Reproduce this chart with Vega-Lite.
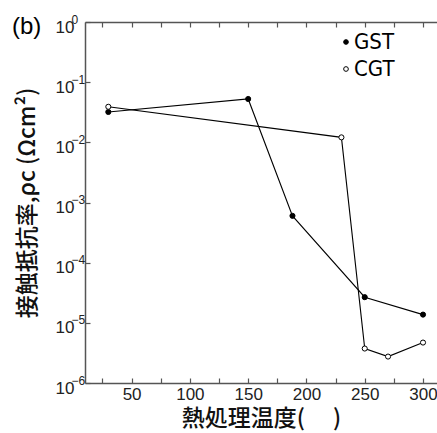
{
  "$schema": "https://vega.github.io/schema/vega-lite/v6.json",
  "autosize": "none",
  "width": 352,
  "height": 361,
  "padding": {"left": 85, "top": 22, "right": 0, "bottom": 50},
  "background": "white",
  "title": {"text": "(b)", "fontSize": 24, "font": "Liberation Sans", "fontWeight": "normal", "anchor": "start", "frame": "group", "dx": -73, "dy": 50, "offset": 0, "baseline": "bottom", "color": "black"},
  "resolve": {"axis": {"y": "independent"}},
  "config": {
    "view": {"stroke": null},
    "axis": {"domainColor": "#555", "tickColor": "#555", "domainWidth": 1.5, "tickWidth": 1.2, "grid": false, "labelFont": "Liberation Sans", "labelFontSize": 17, "labelColor": "#222", "titleColor": "#111"}
  },
  "data": {"values": [
    {"series": "GST", "temp": 30, "rho": 0.032},
    {"series": "GST", "temp": 150, "rho": 0.0526},
    {"series": "GST", "temp": 188, "rho": 0.0006},
    {"series": "GST", "temp": 250, "rho": 0.0000267},
    {"series": "GST", "temp": 300, "rho": 0.0000137},
    {"series": "CGT", "temp": 30, "rho": 0.039},
    {"series": "CGT", "temp": 230, "rho": 0.0121},
    {"series": "CGT", "temp": 250, "rho": 0.00000374},
    {"series": "CGT", "temp": 270, "rho": 0.00000275},
    {"series": "CGT", "temp": 300, "rho": 0.0000047}
  ]},
  "layer": [
    {
      "mark": {"type": "line", "color": "black", "strokeWidth": 1.1},
      "encoding": {
        "x": {"field": "temp", "type": "quantitative", "scale": {"domain": [10, 312], "nice": false, "zero": false},
          "axis": {"orient": "top", "labels": false, "title": null, "values": [25, 50, 75, 100, 125, 150, 175, 200, 225, 250, 275, 300], "tickSize": -5, "domainWidth": 1.5}},
        "y": {"field": "rho", "type": "quantitative", "scale": {"type": "log", "domain": [0.000001, 1], "nice": false},
          "axis": {"orient": "left", "title": "接触抵抗率,ρc (Ωcm²)", "titleFont": "Noto Sans CJK JP", "titleFontSize": 23, "titleFontWeight": 500, "titlePadding": 16,
            "values": [0.000001, 0.00001, 0.0001, 0.001, 0.01, 0.1, 1], "tickSize": -5, "labelPadding": 16, "labelOffset": 5,
            "labelExpr": "'10'"}},
        "detail": {"field": "series"}
      }
    },
    {
      "mark": {"type": "point", "shape": "circle", "stroke": "black", "strokeWidth": 1, "opacity": 1, "filled": false},
      "encoding": {
        "x": {"field": "temp", "type": "quantitative",
          "axis": {"orient": "bottom", "title": "熱処理温度(　 )", "titleFont": "Noto Sans CJK JP", "titleFontSize": 23, "titleFontWeight": 500, "titlePadding": 5,
            "values": [25, 50, 75, 100, 125, 150, 175, 200, 225, 250, 275, 300], "tickSize": -5,
            "labelExpr": "datum.value % 50 == 0 ? datum.label : ''", "labelPadding": 8}},
        "y": {"field": "rho", "type": "quantitative",
          "axis": {"orient": "left", "title": null, "domain": false, "ticks": false, "values": [0.000001, 0.00001, 0.0001, 0.001, 0.01, 0.1, 1],
            "labelAlign": "left", "labelPadding": 14, "labelOffset": -3, "labelFontSize": 12,
            "labelExpr": "format(round(log(datum.value)/LN10), 'd')"}},
        "fill": {"field": "series", "type": "nominal", "scale": {"domain": ["GST", "CGT"], "range": ["black", "white"]},
          "legend": {"orient": "none", "legendX": 250, "legendY": 9, "title": null, "symbolType": "circle", "symbolSize": 22, "symbolStrokeColor": "black", "symbolStrokeWidth": 1,
            "labelFont": "DejaVu Sans Condensed", "labelFontSize": 22, "labelColor": "black", "labelOffset": -3, "rowPadding": 5}},
        "size": {"value": 26}
      }
    }
  ]
}
